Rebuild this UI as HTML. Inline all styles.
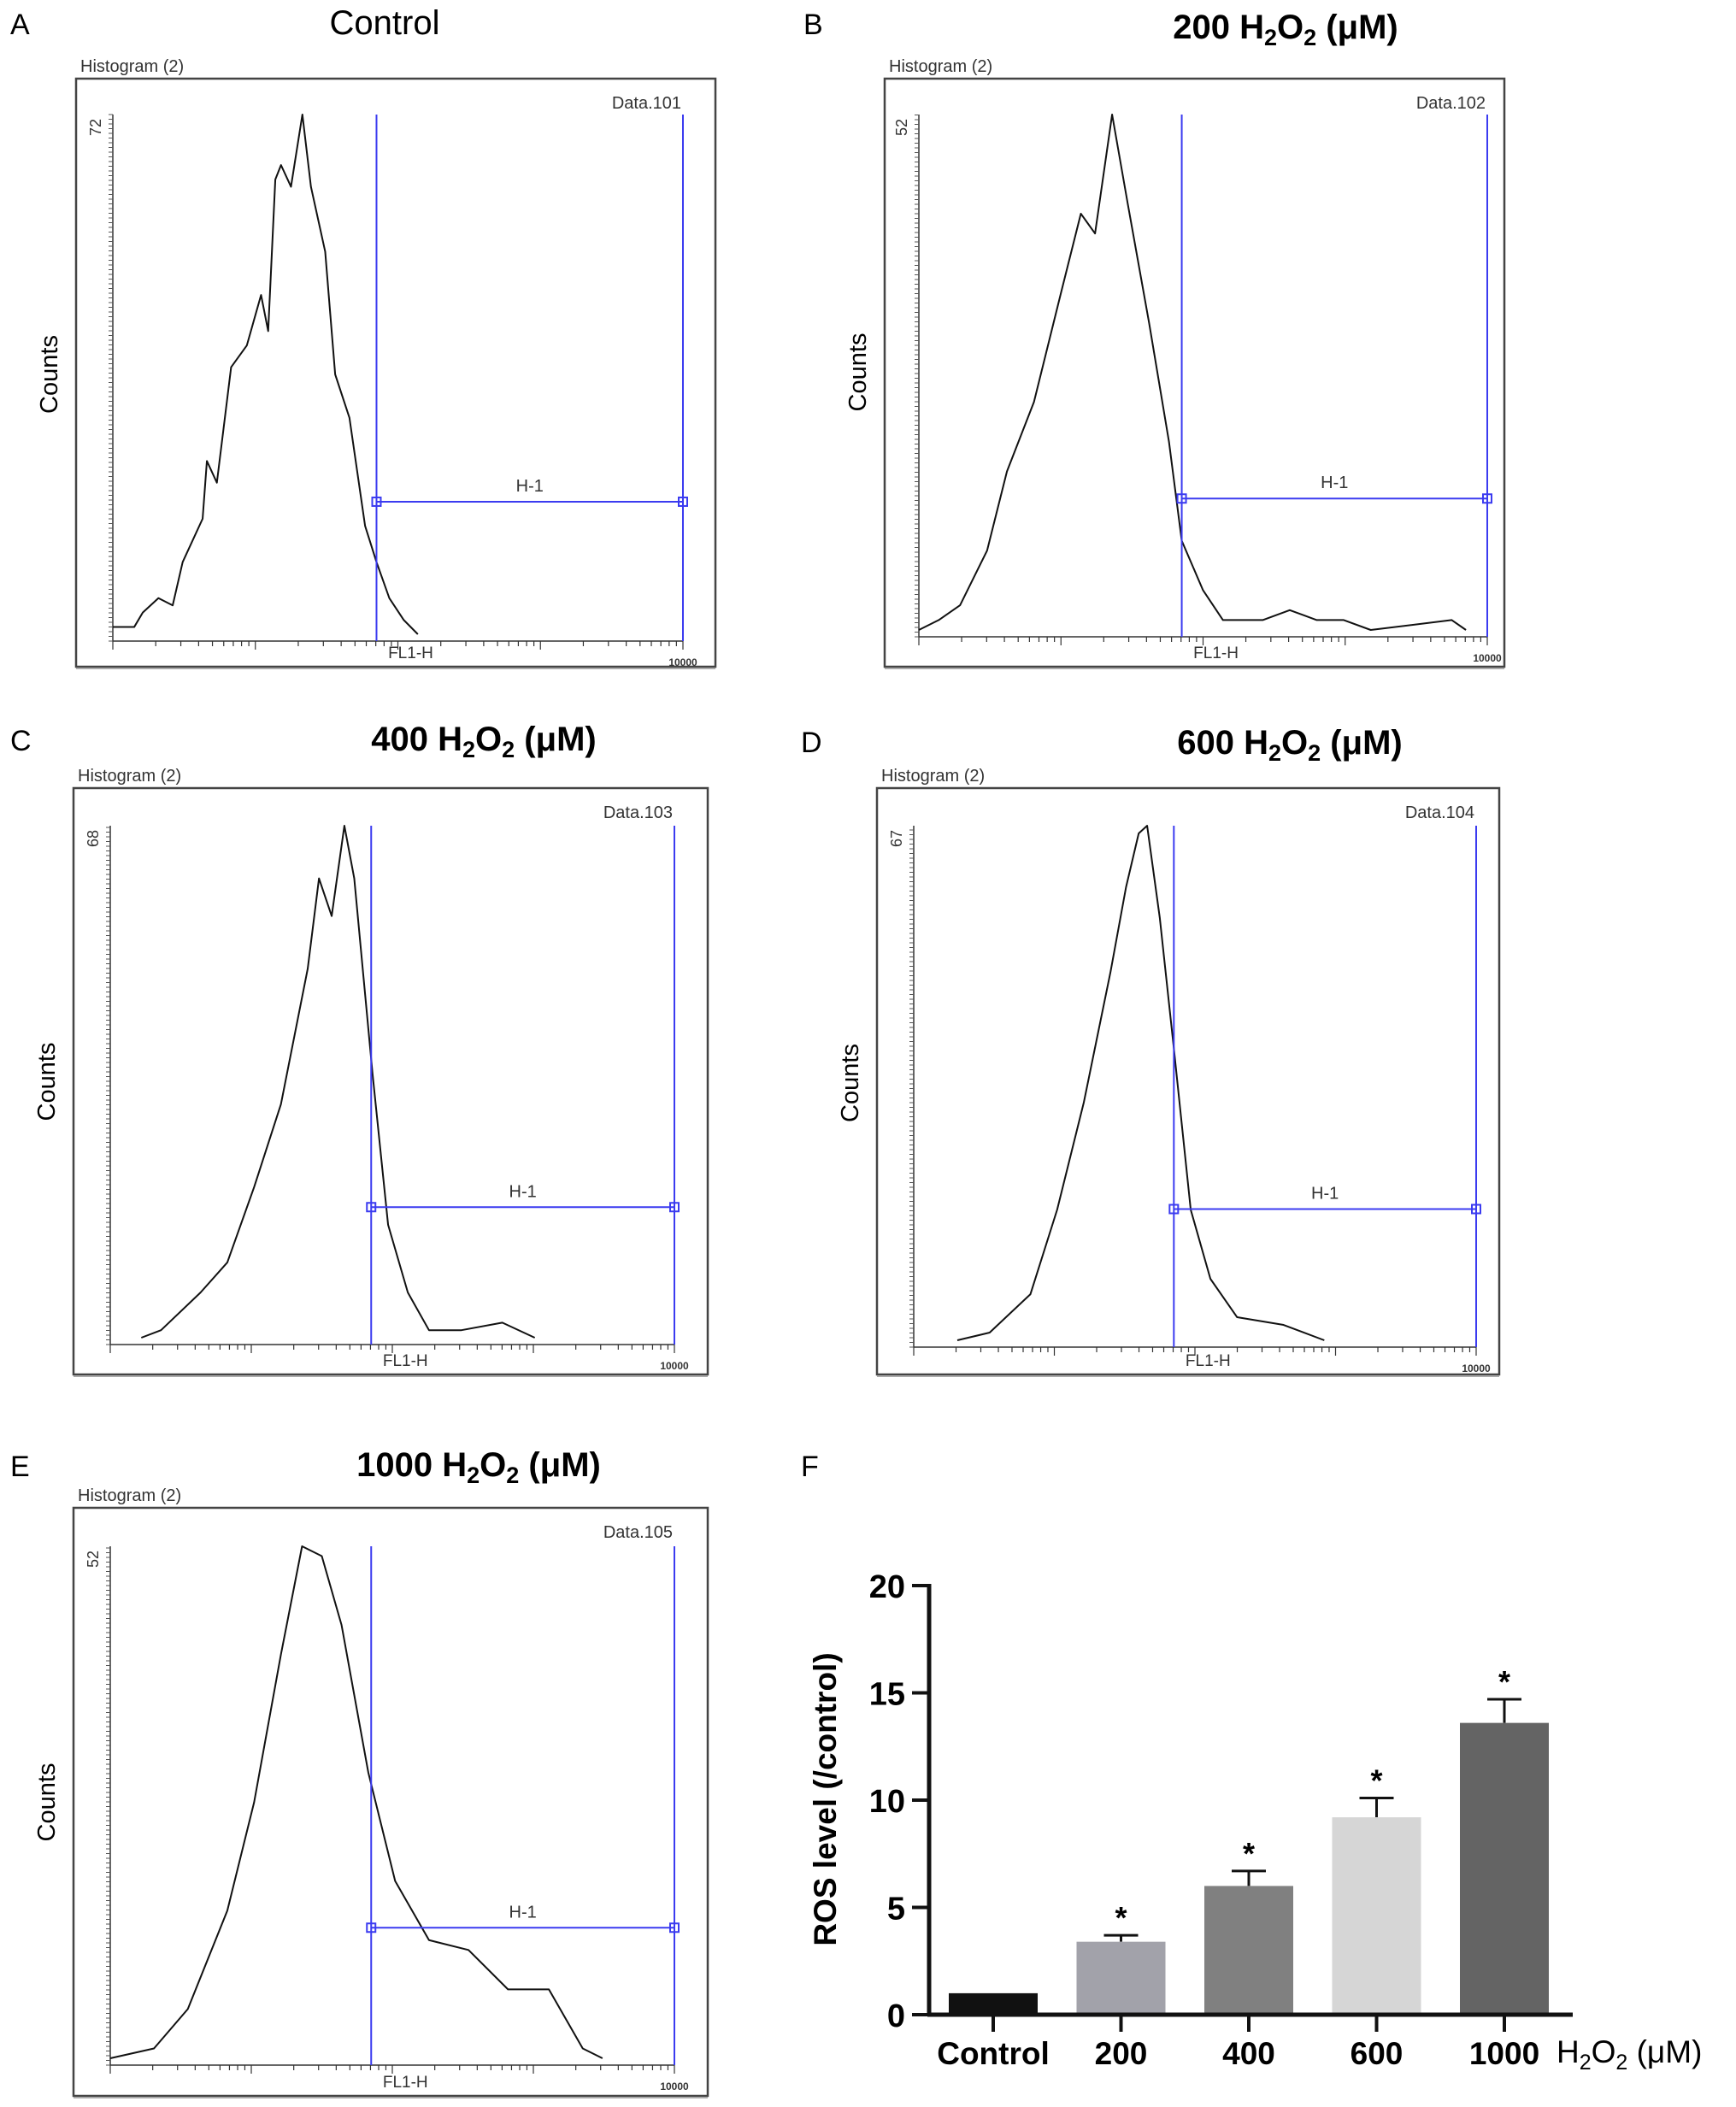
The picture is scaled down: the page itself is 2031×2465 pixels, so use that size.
<!DOCTYPE html>
<html><head><meta charset="utf-8"><style>
html,body{margin:0;padding:0;background:#fff}
svg{display:block}
text{font-family:"Liberation Sans",sans-serif}
</style></head><body>
<svg id="fig" xmlns="http://www.w3.org/2000/svg" width="2031" height="2465" viewBox="0 0 2031 2465"></svg>
<script>
// ---------- Histogram data (x in log decades 0..4, y in counts) ----------
const histA_x=[0.0,0.15,0.21,0.32,0.42,0.49,0.63,0.66,0.73,0.83,0.94,1.04,1.09,1.14,1.18,1.25,1.33,1.39,1.49,1.56,1.66,1.77,1.85,1.94,2.04,2.14];
const histA_y=[1,1,3,5,4,10,16,24,21,37,40,47,42,63,65,62,72,62,53,36,30,15,10,5,2,0];
const histB_x=[0.0,0.14,0.29,0.48,0.62,0.81,1.0,1.14,1.24,1.36,1.47,1.62,1.76,1.85,2.0,2.14,2.42,2.61,2.8,2.99,3.18,3.75,3.85];
const histB_y=[0,1,2.5,8,16,23,34,42,40,52,43,31,19,9,4,1,1,2,1,1,0,1,0];
const histC_x=[0.22,0.36,0.64,0.83,1.02,1.21,1.4,1.48,1.57,1.66,1.73,1.86,1.97,2.11,2.26,2.49,2.78,3.01];
const histC_y=[0,1,6,10,20,31,49,61,56,68,61,35,15,6,1,1,2,0];
const histD_x=[0.31,0.54,0.83,1.02,1.21,1.4,1.51,1.6,1.66,1.75,1.85,1.97,2.11,2.3,2.63,2.92];
const histD_y=[0,1,6,17,31,48,59,66,67,55,38,17,8,3,2,0];
const histE_x=[0.0,0.31,0.55,0.83,1.02,1.21,1.36,1.5,1.64,1.83,2.02,2.26,2.54,2.82,3.11,3.35,3.49];
const histE_y=[0,1,5,15,26,41,52,51,44,29,18,12,11,7,7,1,0];
const histMax=[72,52,68,67,52];
const gateStart=1.85, gateEnd=4.0, gateLevel=0.255;
// ---------- Bar chart data ----------
const barCats=["Control","200","400","600","1000"];
const barVals=[1.0,3.4,6.0,9.2,13.6];
const barErr=[0,0.3,0.7,0.9,1.1];
const barSig=[false,true,true,true,true];
const barTicks=[0,5,10,15,20];

const NS="http://www.w3.org/2000/svg";
const svg=document.getElementById('fig');
function el(tag,attrs,parent,txt){const e=document.createElementNS(NS,tag);for(const k in attrs)e.setAttribute(k,attrs[k]);if(txt!==undefined)e.textContent=txt;(parent||svg).appendChild(e);return e;}
function title(g,cx,cy,num){
  const t=el('text',{x:cx,y:cy,'font-size':40,'text-anchor':'middle','font-weight':num?'bold':'normal'},g);
  if(!num){t.textContent='Control';return t;}
  el('tspan',{},t,num+'  H');
  el('tspan',{'font-size':27,dy:8},t,'2');
  el('tspan',{dy:-8},t,'O');
  el('tspan',{'font-size':27,dy:8},t,'2');
  el('tspan',{dy:-8},t,'  (\u03bcM)');
  return t;
}
const panels=[
 {L:'A',t:null,box:[89,92,748,688],x0:132,x1:799,yb:742,yt:134,hx:histA_x,hy:histA_y,m:histMax[0],d:'Data.101',tc:[450,40]},
 {L:'B',t:'200',box:[1035,92,725,688],x0:1075,x1:1740,yb:737,yt:134,hx:histB_x,hy:histB_y,m:histMax[1],d:'Data.102',tc:[1504,45]},
 {L:'C',t:'400',box:[86,922,742,686],x0:129,x1:789,yb:1565,yt:966,hx:histC_x,hy:histC_y,m:histMax[2],d:'Data.103',tc:[566,878]},
 {L:'D',t:'600',box:[1026,922,728,686],x0:1069,x1:1727,yb:1568,yt:966,hx:histD_x,hy:histD_y,m:histMax[3],d:'Data.104',tc:[1509,882]},
 {L:'E',t:'1000',box:[86,1764,742,688],x0:129,x1:789,yb:2408,yt:1809,hx:histE_x,hy:histE_y,m:histMax[4],d:'Data.105',tc:[560,1727]}
];
const letterPos={A:[12,40],B:[940,40],C:[12,878],D:[937,880],E:[12,1727],F:[937,1727]};
panels.forEach(p=>{
  const g=el('g',{});
  
  
  const lt=el('text',{x:letterPos[p.L][0],y:letterPos[p.L][1],'font-size':34},g,p.L);
  
  const tt=title(g,p.tc[0],p.tc[1],p.t);
  
  const [bx,by,bw,bh]=p.box;
  const hl=el('text',{x:bx+5,y:by-8,'font-size':20,fill:'#333'},g,'Histogram (2)');
  
  const r=el('rect',{x:bx,y:by,width:bw,height:bh,fill:'none',stroke:'#444','stroke-width':2.5},g);
  
  el('line',{x1:bx,y1:by+bh+2,x2:bx+bw,y2:by+bh+2,stroke:'#aaa','stroke-width':2},g);
  const dl=el('text',{x:p.x1-2,y:by+35,'font-size':20,'text-anchor':'end',fill:'#333'},g,p.d);
  
  const sx=v=>p.x0+(p.x1-p.x0)*v/4;
  const sy=v=>p.yb-(p.yb-p.yt)*v/p.m;
  el('line',{x1:p.x0,y1:p.yt,x2:p.x0,y2:p.yb+8,stroke:'#333','stroke-width':1.5},g);
  el('line',{x1:p.x0,y1:p.yb+8,x2:p.x1,y2:p.yb+8,stroke:'#333','stroke-width':1.5},g);
  for(let y=p.yb+8;y>=p.yt;y-=5.5){el('line',{x1:p.x0,y1:y,x2:p.x0-5,y2:y,stroke:'#555','stroke-width':1},g);}
  for(let dec=0;dec<4;dec++){for(let k=1;k<10;k++){const x=sx(dec+Math.log10(k));el('line',{x1:x,y1:p.yb+8,x2:x,y2:p.yb+(k===1?18:14),stroke:'#333','stroke-width':1.2},g);}}
  el('line',{x1:sx(4),y1:p.yb+8,x2:sx(4),y2:p.yb+18,stroke:'#333','stroke-width':1.2},g);
  const ml=el('text',{x:0,y:0,'font-size':18,fill:'#333',transform:`translate(${p.x0-14},${p.yt+5}) rotate(-90)`,'text-anchor':'end'},g,String(p.m));
  
  const cl=el('text',{x:0,y:0,'font-size':29,'text-anchor':'middle',transform:`translate(${bx-22},${(p.yt+p.yb)/2}) rotate(-90)`},g,'Counts');
  
  const fl=el('text',{x:sx(gateStart)+40,y:by+bh-10,'font-size':19,'text-anchor':'middle',fill:'#333'},g,'FL1-H');
  
  el('text',{x:sx(4),y:p.yb+37,'font-size':12,'text-anchor':'middle',fill:'#333','font-weight':'bold'},g,'10000');
  let d='';
  p.hx.forEach((v,i)=>{const x=sx(v),y=sy(p.hy[i]);d+=(i===0?'M':'L')+x+','+y;});
  const path=el('path',{d:d,fill:'none',stroke:'#111','stroke-width':2,'stroke-linejoin':'round'},g);
  
  const gx1=sx(gateStart),gx2=sx(gateEnd),gy=p.yb-(p.yb-p.yt)*gateLevel;
  const gg=el('g',{stroke:'#3b3bf0','stroke-width':2,fill:'none'},g);
  
  el('line',{x1:gx1,y1:p.yt,x2:gx1,y2:p.yb+8},gg);
  el('line',{x1:gx2,y1:p.yt,x2:gx2,y2:p.yb+8},gg);
  el('line',{x1:gx1,y1:gy,x2:gx2,y2:gy},gg);
  el('rect',{x:gx1-5,y:gy-5,width:10,height:10},gg);
  el('rect',{x:gx2-5,y:gy-5,width:10,height:10},gg);
  const hlab=el('text',{x:(gx1+gx2)/2,y:gy-12,'font-size':20,'text-anchor':'middle',fill:'#333'},g,'H-1');
  
});
// ---------- Panel F bar chart ----------
const gF=el('g',{});


const fl=el('text',{x:letterPos.F[0],y:letterPos.F[1],'font-size':34},gF,'F');

const AX=1087,AY0=2357,AYT=1855,AXR=1840;
const fy=v=>AY0-(AY0-AYT)*v/20;
const cat0=1162,catStep=149.5,bw=104;
const fx=i=>cat0+i*catStep;
const barColors=['#111111','#a2a2aa','#808080','#d6d6d6','#646464'];
barVals.forEach((v,i)=>{
  const x=fx(i);
  if(barErr[i]>0){const e=el('g',{stroke:'#111','stroke-width':3},gF);
    
    el('line',{x1:x,y1:fy(v),x2:x,y2:fy(v+barErr[i])},e);
    el('line',{x1:x-20,y1:fy(v+barErr[i]),x2:x+20,y2:fy(v+barErr[i])},e);}
  const b=el('rect',{x:x-bw/2,y:fy(v),width:bw,height:AY0-fy(v),fill:barColors[i]},gF);
  
  if(barSig[i]){const s=el('text',{x:x,y:fy(v+barErr[i])-8,'font-size':36,'font-weight':'bold','text-anchor':'middle'},gF,'*');
    }
  el('line',{x1:x,y1:AY0,x2:x,y2:AY0+20,stroke:'#111','stroke-width':4},gF);
  const t=el('text',{x:x,y:AY0+58,'font-size':37,'font-weight':'bold','text-anchor':'middle'},gF,barCats[i]);
  
});
el('line',{x1:AX,y1:AYT-2,x2:AX,y2:AY0+2,stroke:'#111','stroke-width':5},gF);
el('line',{x1:AX-2,y1:AY0,x2:AXR,y2:AY0,stroke:'#111','stroke-width':5},gF);
barTicks.forEach(v=>{
  el('line',{x1:AX-20,y1:fy(v),x2:AX,y2:fy(v),stroke:'#111','stroke-width':4},gF);
  const t=el('text',{x:AX-28,y:fy(v)+14,'font-size':38,'font-weight':'bold','text-anchor':'end'},gF,String(v));
  
});
const yt=el('text',{x:0,y:0,'font-size':37,'font-weight':'bold','text-anchor':'middle',transform:'translate(978,2105) rotate(-90)'},gF,'ROS level (/control)');

const xu=el('text',{x:1821,y:AY0+56,'font-size':37},gF);

el('tspan',{},xu,'H');el('tspan',{'font-size':25,dy:8},xu,'2');el('tspan',{dy:-8},xu,'O');el('tspan',{'font-size':25,dy:8},xu,'2');el('tspan',{dy:-8},xu,' (\u03bcM)');
</script>
</body></html>
